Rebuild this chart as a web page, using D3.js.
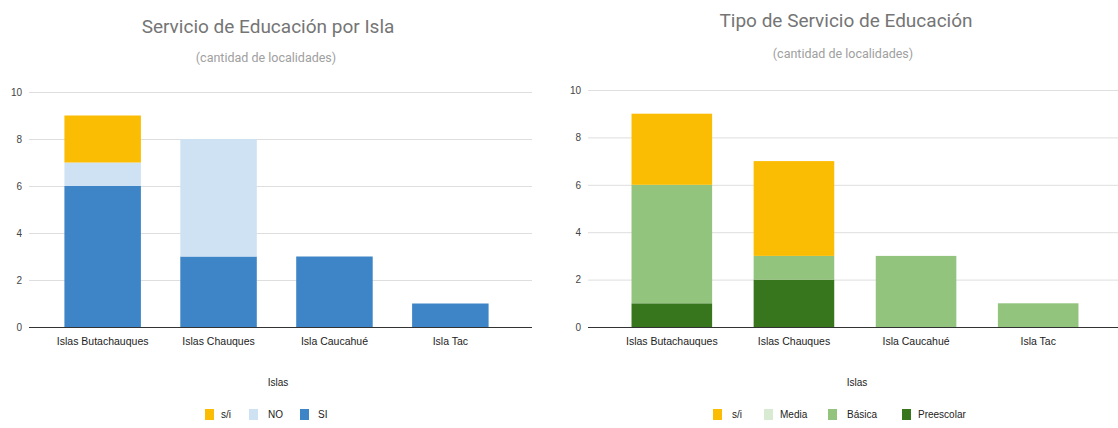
<!DOCTYPE html>
<html>
<head>
<meta charset="utf-8">
<script src="https://cdn.jsdelivr.net/npm/d3@7"></script>
<style>
  body { margin: 0; background: #fff; }
  svg { display: block; }
</style>
</head>
<body>
<div id="chart"></div>
<script>
// categories (x axis)
const islas = ["Islas Butachauques", "Islas Chauques", "Isla Caucahué", "Isla Tac"];

// left chart: servicio de educacion por isla
const servicioSI = [6, 3, 3, 1];
const servicioNO = [1, 5, 0, 0];
const servicioSinInfo = [2, 0, 0, 0];

// right chart: tipo de servicio
const tipoPreescolar = [1, 2, 0, 0];
const tipoBasica = [5, 1, 3, 1];
const tipoMedia = [0, 0, 0, 0];
const tipoSinInfo = [3, 4, 0, 0];

const yTicks = [0, 2, 4, 6, 8, 10];

const svg = d3
  .select("#chart")
  .append("svg")
  .attr("width", 1118)
  .attr("height", 428);

function drawChart(cfg) {
  // build rows for the stack
  const rows = islas.map((isla, i) => {
    const row = { isla: isla };
    cfg.series.forEach((s) => (row[s.key] = s.values[i]));
    return row;
  });
  const keys = cfg.series.map((s) => s.key);
  const stacked = d3.stack().keys(keys)(rows);

  const x = d3
    .scaleBand()
    .domain(islas)
    .range([cfg.left, cfg.right])
    .padding(0.34);

  const y = d3.scaleLinear().domain([0, 10]).range([cfg.bottom, cfg.top]);

  const g = svg.append("g");

  // gridlines
  g.selectAll(".grid")
    .data(yTicks.filter((t) => t > 0))
    .join("line")
    .attr("x1", cfg.gridStart)
    .attr("x2", cfg.gridEnd)
    .attr("y1", (d) => y(d) + 0.5)
    .attr("y2", (d) => y(d) + 0.5)
    .attr("stroke", "#dedede")
    .attr("stroke-width", 1);

  // y axis labels
  const yAxis = g
    .append("g")
    .attr("transform", `translate(${cfg.gridStart},0)`)
    .call(d3.axisLeft(y).tickValues(yTicks).tickSize(0).tickPadding(7));
  yAxis.select(".domain").remove();
  yAxis
    .selectAll("text")
    .attr("fill", "#444")
    .style("font-family", "'Liberation Sans', Arial, sans-serif")
    .style("font-size", "10px");

  // bars
  g.selectAll(".layer")
    .data(stacked)
    .join("g")
    .attr("fill", (d) => cfg.series.find((s) => s.key === d.key).color)
    .selectAll("rect")
    .data((d) => d)
    .join("rect")
    .attr("x", (d) => x(d.data.isla))
    .attr("width", x.bandwidth())
    .attr("y", (d) => y(d[1]))
    .attr("height", (d) => y(d[0]) - y(d[1]));

  // baseline
  g.append("line")
    .attr("x1", cfg.gridStart)
    .attr("x2", cfg.gridEnd)
    .attr("y1", y(0) + 0.5)
    .attr("y2", y(0) + 0.5)
    .attr("stroke", "#333")
    .attr("stroke-width", 1);

  // x axis labels
  const xAxis = g
    .append("g")
    .attr("transform", `translate(0,${y(0)})`)
    .call(d3.axisBottom(x).tickSize(0).tickPadding(11));
  xAxis.select(".domain").remove();
  xAxis
    .selectAll("text")
    .attr("fill", "#222")
    .style("font-family", "'Liberation Sans', Arial, sans-serif")
    .style("font-size", "10.5px");

  // titles
  g.append("text")
    .attr("x", cfg.titleX)
    .attr("y", cfg.titleY)
    .attr("text-anchor", "middle")
    .attr("fill", "#757575")
    .style("font-family", "Roboto, sans-serif")
    .style("font-size", "19px")
    .text(cfg.title);

  g.append("text")
    .attr("x", cfg.subX)
    .attr("y", cfg.subY)
    .attr("text-anchor", "middle")
    .attr("fill", "#a0a0a0")
    .style("font-family", "Roboto, sans-serif")
    .style("font-size", "12.5px")
    .text("(cantidad de localidades)");

  g.append("text")
    .attr("x", cfg.axisTitleX)
    .attr("y", 386)
    .attr("text-anchor", "middle")
    .attr("fill", "#222")
    .style("font-family", "'Liberation Sans', Arial, sans-serif")
    .style("font-size", "10px")
    .text("Islas");

  // legend
  const legend = g
    .append("g")
    .selectAll("g")
    .data(cfg.legend)
    .join("g")
    .attr("transform", (d) => `translate(${d.x},409)`);
  legend
    .append("rect")
    .attr("width", 9)
    .attr("height", 11)
    .attr("fill", (d) => cfg.series.find((s) => s.key === d.key).color);
  legend
    .append("text")
    .attr("x", (d) => d.dx)
    .attr("y", 9)
    .attr("fill", "#222")
    .style("font-family", "'Liberation Sans', Arial, sans-serif")
    .style("font-size", "10px")
    .text((d) => d.key);
}

drawChart({
  title: "Servicio de Educación por Isla",
  titleX: 268,
  titleY: 33,
  subX: 266,
  subY: 62,
  axisTitleX: 278,
  left: 25,
  right: 528,
  gridStart: 29,
  gridEnd: 532,
  top: 92,
  bottom: 327,
  series: [
    { key: "SI", values: servicioSI, color: "#3d85c6" },
    { key: "NO", values: servicioNO, color: "#cfe2f3" },
    { key: "s/i", values: servicioSinInfo, color: "#fbbc04" },
  ],
  legend: [
    { key: "s/i", x: 205, dx: 16 },
    { key: "NO", x: 249, dx: 19 },
    { key: "SI", x: 300, dx: 18 },
  ],
});

drawChart({
  title: "Tipo de Servicio de Educación",
  titleX: 846,
  titleY: 27,
  subX: 843,
  subY: 58,
  axisTitleX: 857,
  left: 590,
  right: 1120,
  gridStart: 588,
  gridEnd: 1118,
  top: 90,
  bottom: 327,
  series: [
    { key: "Preescolar", values: tipoPreescolar, color: "#38761d" },
    { key: "Básica", values: tipoBasica, color: "#93c47d" },
    { key: "Media", values: tipoMedia, color: "#d9ead3" },
    { key: "s/i", values: tipoSinInfo, color: "#fbbc04" },
  ],
  legend: [
    { key: "s/i", x: 713, dx: 19 },
    { key: "Media", x: 764, dx: 16 },
    { key: "Básica", x: 828, dx: 19 },
    { key: "Preescolar", x: 902, dx: 16 },
  ],
});
</script>
</body>
</html>
